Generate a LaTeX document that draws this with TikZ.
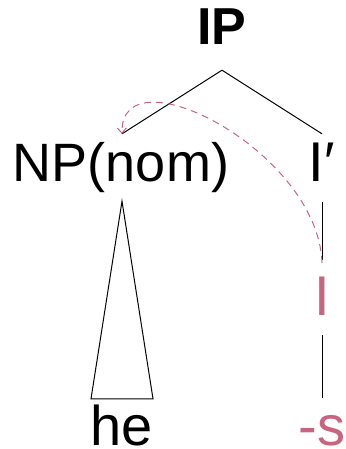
\documentclass[tikz,border=0pt]{standalone}
\usepackage{fontspec}
\setmainfont{Liberation Sans}
\usetikzlibrary{arrows.meta}
\definecolor{inflpink}{RGB}{200,100,128}
\tikzset{
  lbl/.style={font=\fontsize{56}{60}\selectfont, inner sep=0pt,
    text height=40pt, text depth=0pt, anchor=base},
  branch/.style={line width=1pt},
  movement/.style={inflpink, line width=1pt, dash pattern=on 7pt off 5pt,
    -{Straight Barb[length=5pt,width=9pt]}},
}
\begin{document}
\begin{tikzpicture}[x=1pt,y=-1pt]
      \useasboundingbox (0,0) rectangle (345,449);

      % Labels
      \node[lbl, font=\bfseries\fontsize{52}{56}\selectfont, text height=37pt] (ip) at (222,45) {IP};
      \node[lbl, font=\fontsize{54}{58}\selectfont] (np) at (121,182) {NP(nom)};
      \node[lbl] (ibar) at (322,182) {I′};
      \node[lbl, text=inflpink] (infl) at (322,315) {I};
      \node[lbl] (he) at (122,445) {he};
      \node[lbl, text=inflpink] (suf) at (322,445) {-s};

      % Branches
      \draw[branch] ([xshift=1pt,yshift=8pt]np.north)
        -- ([yshift=-25pt]ip.south) -- ([yshift=8pt]ibar.north);
      \draw[branch] ([yshift=-20pt]ibar.south) -- ([yshift=15pt]infl.north);
      \draw[branch] ([yshift=-20pt]infl.south) -- ([yshift=7pt]suf.north);

      % Triangle over NP
      \draw[branch] ([xshift=1pt,yshift=-19pt]np.south)
        -- ([xshift=-31pt,yshift=6pt]he.north)
        -- ([xshift=31pt,yshift=6pt]he.north) -- cycle;

      % Movement of I
      \draw[movement] ([yshift=12pt]infl.north)
        .. controls (318,150) and (120,50) .. ([xshift=1pt,yshift=8pt]np.north);
\end{tikzpicture}
\end{document}
